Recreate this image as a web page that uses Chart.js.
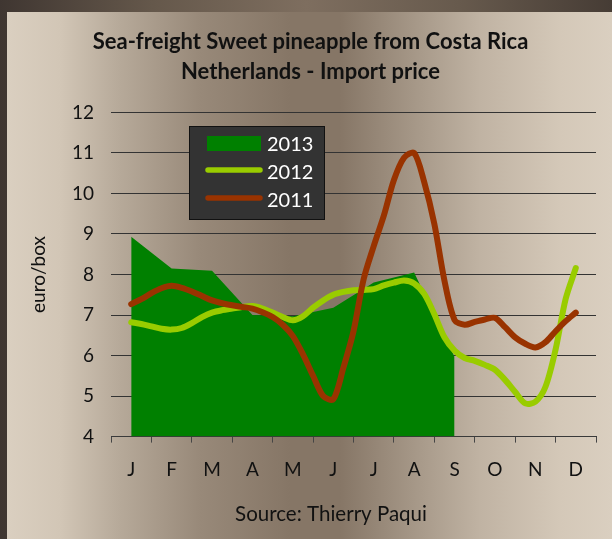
<!DOCTYPE html>
<html>
<head>
<meta charset="utf-8">
<script src="https://cdn.jsdelivr.net/npm/chart.js@4"></script>
<style>
  html, body { margin: 0; padding: 0; width: 612px; height: 539px; overflow: hidden; background: #3e3530; }
  #frame { position: absolute; left: 0; top: 0; width: 612px; height: 539px;
    background: linear-gradient(to right, #3f3631 0%, #65584b 25%, #7e6e5f 50%, #675a4d 75%, #463c35 100%); }
  #panel { position: absolute; left: 7px; top: 12px; width: 605px; height: 527px;
    background: linear-gradient(to right,
      #dacfc0 0%, #d2c6b6 8.8%, #b6a999 18.7%, #988979 31.9%, #867666 46.8%,
      #867666 55%, #a89a8a 68.3%, #c0b3a3 78.2%, #d4c8b8 91.4%, #dacfc0 100%); }
  #chart { position: absolute; left: 0; top: 0; }
</style>
</head>
<body>
<div id="frame"></div>
<div id="panel"></div>
<canvas id="chart" width="612" height="539"></canvas>
<script>
// Month labels on the category axis
const MONTHS = ['J', 'F', 'M', 'A', 'M', 'J', 'J', 'A', 'S', 'O', 'N', 'D'];

// Series names
const SERIES = ['2013', '2012', '2011'];

// 2013: monthly import price (euro/box), January to September
const PRICE_2013 = [8.93, 8.15, 8.09, 7.00, 6.97, 7.18, 7.80, 8.05, 5.97];

// 2012 and 2011: four readings per month, January to December
const SAMPLES_PER_MONTH = 4;
const PRICE_2012 = [
  6.82, 6.78, 6.72, 6.66, 6.64, 6.68, 6.80, 6.95, 7.06, 7.12, 7.16, 7.20,
  7.22, 7.16, 7.06, 6.95, 6.87, 6.97, 7.18, 7.36, 7.50, 7.57, 7.61, 7.62,
  7.64, 7.73, 7.80, 7.85, 7.78, 7.52, 7.02, 6.45, 6.12, 5.94, 5.87, 5.77,
  5.65, 5.40, 5.10, 4.82, 4.86, 5.23, 6.15, 7.40, 8.16
];
const PRICE_2011 = [
  7.27, 7.39, 7.54, 7.66, 7.72, 7.67, 7.58, 7.47, 7.36, 7.29, 7.24, 7.20,
  7.16, 7.07, 6.95, 6.76, 6.48, 6.03, 5.50, 5.00, 4.92, 5.70, 6.60, 7.88,
  8.70, 9.45, 10.33, 10.88, 11.00, 10.28, 9.25, 7.85, 6.88, 6.76, 6.83, 6.89,
  6.93, 6.70, 6.45, 6.29, 6.20, 6.33, 6.60, 6.85, 7.06
];

// Value axis
const Y_MIN = 4, Y_MAX = 12, Y_STEP = 1;

const COLORS = { '2013': '#008000', '2012': '#99cc00', '2011': '#993300' };
const FONT = 'Lato, "Open Sans", sans-serif';

const monthly = PRICE_2013.map((v, i) => ({ x: i, y: v }));
const sampled = arr => arr.map((v, i) => ({ x: i / SAMPLES_PER_MONTH, y: v }));

// Title, source line and the boxed legend drawn on the canvas
const decorations = {
  id: 'decorations',
  afterDatasetsDraw(chart) {
    const ctx = chart.ctx;
    ctx.save();
    // legend box
    const bx = 189.5, by = 126.5, bw = 135, bh = 93;
    ctx.fillStyle = '#333333';
    ctx.fillRect(bx, by, bw, bh);
    ctx.strokeStyle = '#111111';
    ctx.lineWidth = 1;
    ctx.strokeRect(bx, by, bw, bh);
    const rows = [143.5, 172, 200];
    ctx.font = '20px ' + FONT;
    ctx.textBaseline = 'middle';
    ctx.textAlign = 'left';
    chart.data.datasets.forEach((ds, i) => {
      const cy = rows[i];
      if (ds.fill) {
        ctx.fillStyle = ds.backgroundColor;
        ctx.fillRect(207, cy - 7.5, 54, 15);
      } else {
        ctx.strokeStyle = ds.borderColor;
        ctx.lineWidth = 5.5;
        ctx.lineCap = 'round';
        ctx.beginPath();
        ctx.moveTo(208, cy - 2);
        ctx.lineTo(260, cy - 2);
        ctx.stroke();
      }
      ctx.fillStyle = '#ffffff';
      ctx.fillText(ds.label, 267, cy + 1);
    });
    ctx.restore();
  },
  afterDraw(chart) {
    const ctx = chart.ctx;
    ctx.save();
    ctx.fillStyle = '#111111';
    ctx.textAlign = 'center';
    ctx.textBaseline = 'middle';
    ctx.font = 'bold 22px ' + FONT;
    ctx.fillText('Sea-freight Sweet pineapple from Costa Rica', 310.5, 42);
    ctx.fillText('Netherlands - Import price', 310.5, 72);
    ctx.font = '20.5px ' + FONT;
    ctx.fillText('Source: Thierry Paqui', 331, 514);
    ctx.restore();
  }
};

new Chart(document.getElementById('chart'), {
  type: 'line',
  data: {
    datasets: [
      {
        label: SERIES[0], data: monthly, order: 3,
        backgroundColor: COLORS['2013'], borderWidth: 0, fill: 'start', tension: 0
      },
      {
        label: SERIES[1], data: sampled(PRICE_2012), order: 2,
        borderColor: COLORS['2012'], borderWidth: 6, fill: false, tension: 0.3,
        borderCapStyle: 'round', borderJoinStyle: 'round'
      },
      {
        label: SERIES[2], data: sampled(PRICE_2011), order: 1,
        borderColor: COLORS['2011'], borderWidth: 6, fill: false, tension: 0.3,
        borderCapStyle: 'round', borderJoinStyle: 'round'
      }
    ]
  },
  options: {
    responsive: false,
    animation: false,
    devicePixelRatio: 1,
    layout: { padding: { top: 112.4, left: 0, right: 14.5, bottom: 0 } },
    elements: { point: { radius: 0, hoverRadius: 0 } },
    plugins: { legend: { display: false }, tooltip: { enabled: false }, title: { display: false } },
    scales: {
      x: {
        type: 'linear', min: -0.5, max: 11.5,
        afterFit(s) { s.height = 102.4; },
        afterBuildTicks(s) {
          const t = [];
          for (let k = 0; k <= MONTHS.length * 2; k++) t.push({ value: -0.5 + k / 2 });
          s.ticks = t;
        },
        ticks: {
          autoSkip: false, maxRotation: 0, padding: 16, color: '#111111',
          font: { family: FONT, size: 19 },
          callback: v => (Number.isInteger(v) ? MONTHS[v] : '')
        },
        grid: {
          drawOnChartArea: false, drawTicks: true, tickLength: 6, tickWidth: 1,
          tickColor: c => (c.tick && Number.isInteger(c.tick.value) ? 'rgba(0,0,0,0)' : '#454545')
        },
        border: { display: true, color: '#3a3a3a', width: 1 }
      },
      y: {
        min: Y_MIN, max: Y_MAX,
        afterFit(s) { s.width = 111; },
        ticks: { stepSize: Y_STEP, padding: 17, color: '#111111', font: { family: FONT, size: 19 } },
        grid: { color: '#333333', lineWidth: 1, drawTicks: false },
        border: { display: false },
        title: {
          display: true, text: 'euro/box', color: '#111111',
          font: { family: FONT, size: 19 }, padding: { top: 27.6, bottom: 0 }
        }
      }
    }
  },
  plugins: [decorations]
});
</script>
</body>
</html>
